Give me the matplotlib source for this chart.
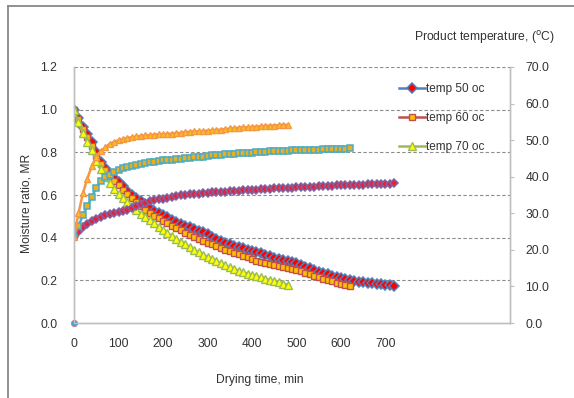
import numpy as np
import matplotlib
matplotlib.use('Agg')
import matplotlib.pyplot as plt
from matplotlib.ticker import FormatStrFormatter

plt.rcParams['font.family'] = ['Liberation Sans', 'DejaVu Sans']

# Sampling times (min), one reading every 10 min
t50 = np.arange(0, 730, 10)
t60 = np.arange(0, 630, 10)
t70 = np.arange(0, 490, 10)

# Moisture ratio, left axis
mr50 = [1.00, 0.96, 0.92, 0.885, 0.85, 0.80, 0.755, 0.725, 0.70, 0.68,
        0.66, 0.64, 0.62, 0.60, 0.585, 0.57, 0.555, 0.54, 0.527, 0.515,
        0.505, 0.495, 0.485, 0.475, 0.466, 0.457, 0.448, 0.44, 0.432, 0.425,
        0.418, 0.405, 0.395, 0.385, 0.377, 0.37, 0.362, 0.356, 0.35, 0.344,
        0.338, 0.333, 0.328, 0.32, 0.313, 0.306, 0.30, 0.295, 0.29, 0.285,
        0.28, 0.272, 0.264, 0.256, 0.248, 0.24, 0.234, 0.228, 0.222, 0.216,
        0.21, 0.206, 0.202, 0.198, 0.194, 0.19, 0.188, 0.186, 0.184, 0.182,
        0.18, 0.177, 0.175]
mr60 = [1.00, 0.955, 0.91, 0.87, 0.83, 0.785, 0.745, 0.715, 0.69, 0.665,
        0.645, 0.625, 0.605, 0.585, 0.565, 0.548, 0.532, 0.517, 0.503, 0.49,
        0.478, 0.467, 0.456, 0.445, 0.434, 0.424, 0.414, 0.404, 0.395, 0.386,
        0.377, 0.368, 0.36, 0.352, 0.344, 0.336, 0.33, 0.322, 0.315, 0.308,
        0.30, 0.293, 0.287, 0.281, 0.276, 0.271, 0.266, 0.262, 0.258, 0.254,
        0.25, 0.243, 0.236, 0.229, 0.222, 0.215, 0.208, 0.201, 0.195, 0.189,
        0.183, 0.177, 0.172]
mr70 = [1.00, 0.94, 0.89, 0.85, 0.81, 0.76, 0.72, 0.685, 0.655, 0.63,
        0.605, 0.585, 0.565, 0.547, 0.53, 0.513, 0.497, 0.482, 0.467, 0.452,
        0.437, 0.422, 0.408, 0.394, 0.381, 0.368, 0.355, 0.343, 0.332, 0.321,
        0.31, 0.30, 0.29, 0.28, 0.27, 0.261, 0.253, 0.245, 0.238, 0.232,
        0.226, 0.22, 0.214, 0.208, 0.202, 0.196, 0.19, 0.185, 0.18]

# Product temperature (C), right axis
tp50 = [23.5, 25.0, 26.2, 27.0, 27.8, 28.4, 29.0, 29.4, 29.8, 30.1,
        30.4, 30.7, 31.0, 31.4, 31.9, 32.5, 32.9, 33.3, 33.6, 33.8,
        34.0, 34.3, 34.5, 34.8, 35.0, 35.1, 35.2, 35.3, 35.4, 35.5,
        35.6, 35.7, 35.8, 35.8, 35.9, 36.0, 36.1, 36.2, 36.3, 36.3,
        36.4, 36.5, 36.6, 36.6, 36.7, 36.8, 36.8, 36.9, 37.0, 37.0,
        37.1, 37.1, 37.2, 37.3, 37.3, 37.4, 37.4, 37.5, 37.5, 37.6,
        37.6, 37.7, 37.7, 37.8, 37.8, 37.8, 37.9, 37.9, 38.0, 38.0,
        38.0, 38.1, 38.2]
tp60 = [23.5, 26.5, 29.5, 32.0, 34.5, 37.0, 38.8, 39.8, 40.5, 41.2,
        41.8, 42.3, 42.7, 43.0, 43.3, 43.6, 43.8, 44.0, 44.1, 44.3,
        44.5, 44.6, 44.7, 44.8, 44.9, 45.1, 45.2, 45.3, 45.4, 45.5,
        45.7, 45.8, 45.9, 46.0, 46.1, 46.2, 46.3, 46.4, 46.5, 46.5,
        46.6, 46.7, 46.8, 46.8, 46.9, 47.0, 47.0, 47.1, 47.1, 47.2,
        47.2, 47.3, 47.3, 47.4, 47.4, 47.4, 47.5, 47.5, 47.6, 47.6,
        47.7, 47.7, 47.8]
tp70 = [23.5, 30.0, 35.5, 39.5, 43.0, 45.5, 47.0, 48.0, 49.0, 49.5,
        50.0, 50.3, 50.6, 50.8, 51.0, 51.2, 51.3, 51.4, 51.5, 51.6,
        51.6, 51.7, 51.8, 51.9, 52.0, 52.2, 52.3, 52.4, 52.4, 52.5,
        52.6, 52.7, 52.8, 52.9, 53.0, 53.2, 53.3, 53.4, 53.5, 53.5,
        53.6, 53.7, 53.8, 53.9, 54.0, 54.0, 54.1, 54.2, 54.2]

labels = ['temp 50 oc', 'temp 60 oc', 'temp 70 oc']
xticks = [0, 100, 200, 300, 400, 500, 600, 700]

txt = '#333333'
fs = 8.7
fig = plt.figure(figsize=(5.74, 3.98), dpi=100)
ax = fig.add_axes([0.129, 0.1884, 0.7595, 0.6433])
ax2 = ax.twinx()

# moisture ratio curves
l1, = ax.plot(t50, mr50, color='#4F81BD', lw=1.8, marker='D', ms=4.6,
              mfc='#FF0000', mec='#4F81BD', mew=1.1, label=labels[0])
l2, = ax.plot(t60, mr60, color='#C0504D', lw=1.8, marker='s', ms=4.9,
              mfc='#FFC000', mec='#C0504D', mew=1.0, label=labels[1])
l3, = ax.plot(t70, mr70, color='#9BBB59', lw=1.8, marker='^', ms=5.8,
              mfc='#FFFF00', mec='#9BBB59', mew=1.0, label=labels[2])
ax.plot([0], [0], ls='none', marker='o', ms=4.5, mfc='#2FA8E0',
        mec='#E07070', mew=0.6, clip_on=False, zorder=5)

# temperature curves
ax2.plot(t50, tp50, color='#8064A2', lw=1.8, marker='D', ms=4.3,
         mfc='#E8203A', mec='#8064A2', mew=1.1)
ax2.plot(t60, tp60, color='#4BACC6', lw=1.8, marker='s', ms=4.9,
         mfc='#E8B020', mec='#4BACC6', mew=1.1)
ax2.plot(t70, tp70, color='#F79646', lw=1.8, marker='^', ms=5.0,
         mfc='#F5C518', mec='#F79646', mew=1.0)

ax.set_xlim(0, 980)
ax.set_ylim(0, 1.2)
ax2.set_ylim(0, 70)
ax.set_xticks(xticks)
ax.set_yticks(np.arange(0, 1.21, 0.2))
ax2.set_yticks(np.arange(0, 71, 10))
ax.yaxis.set_major_formatter(FormatStrFormatter('%.1f'))
ax2.yaxis.set_major_formatter(FormatStrFormatter('%.1f'))

for y in np.arange(0.2, 1.21, 0.2):
    ax.axhline(y, color='#8C8C8C', lw=0.8, ls=(0, (3, 2)), zorder=0)

for a in (ax, ax2):
    a.spines['top'].set_visible(False)
    for s in ('left', 'right', 'bottom'):
        a.spines[s].set_color('#BFBFBF')
        a.spines[s].set_linewidth(1.0)
ax.tick_params(axis='x', length=0, pad=11, labelsize=fs, labelcolor=txt)
ax.tick_params(axis='y', length=0, pad=12, labelsize=fs, labelcolor=txt)
ax2.tick_params(axis='y', length=3, width=0.8, color='#BFBFBF', pad=8,
                labelsize=fs, labelcolor=txt)

fig.text(0.453, 0.045, 'Drying time, min', ha='center', va='center',
         fontsize=fs, color=txt)
fig.text(0.047, 0.49, 'Moisture ratio, MR', ha='center', va='center',
         rotation=90, fontsize=fs, color=txt)
fig.text(0.845, 0.907, r'Product temperature, ($^{\rm o}$C)', ha='center',
         va='center', fontsize=fs, color=txt)

fig.legend(handles=[l1, l2, l3], loc='upper left',
           bbox_to_anchor=(0.676, 0.818), frameon=False, fontsize=8.5,
           labelspacing=1.45, handlelength=2.2, handletextpad=0.15,
           labelcolor=txt)

# outer frame (left and top edges only)
fig.add_artist(plt.Line2D([0.0135, 0.0135], [0, 0.985], color='#888888',
                          lw=1.3, transform=fig.transFigure))
fig.add_artist(plt.Line2D([0.0135, 1], [0.985, 0.985], color='#888888',
                          lw=1.3, transform=fig.transFigure))

fig.savefig('out.png', dpi=100)
